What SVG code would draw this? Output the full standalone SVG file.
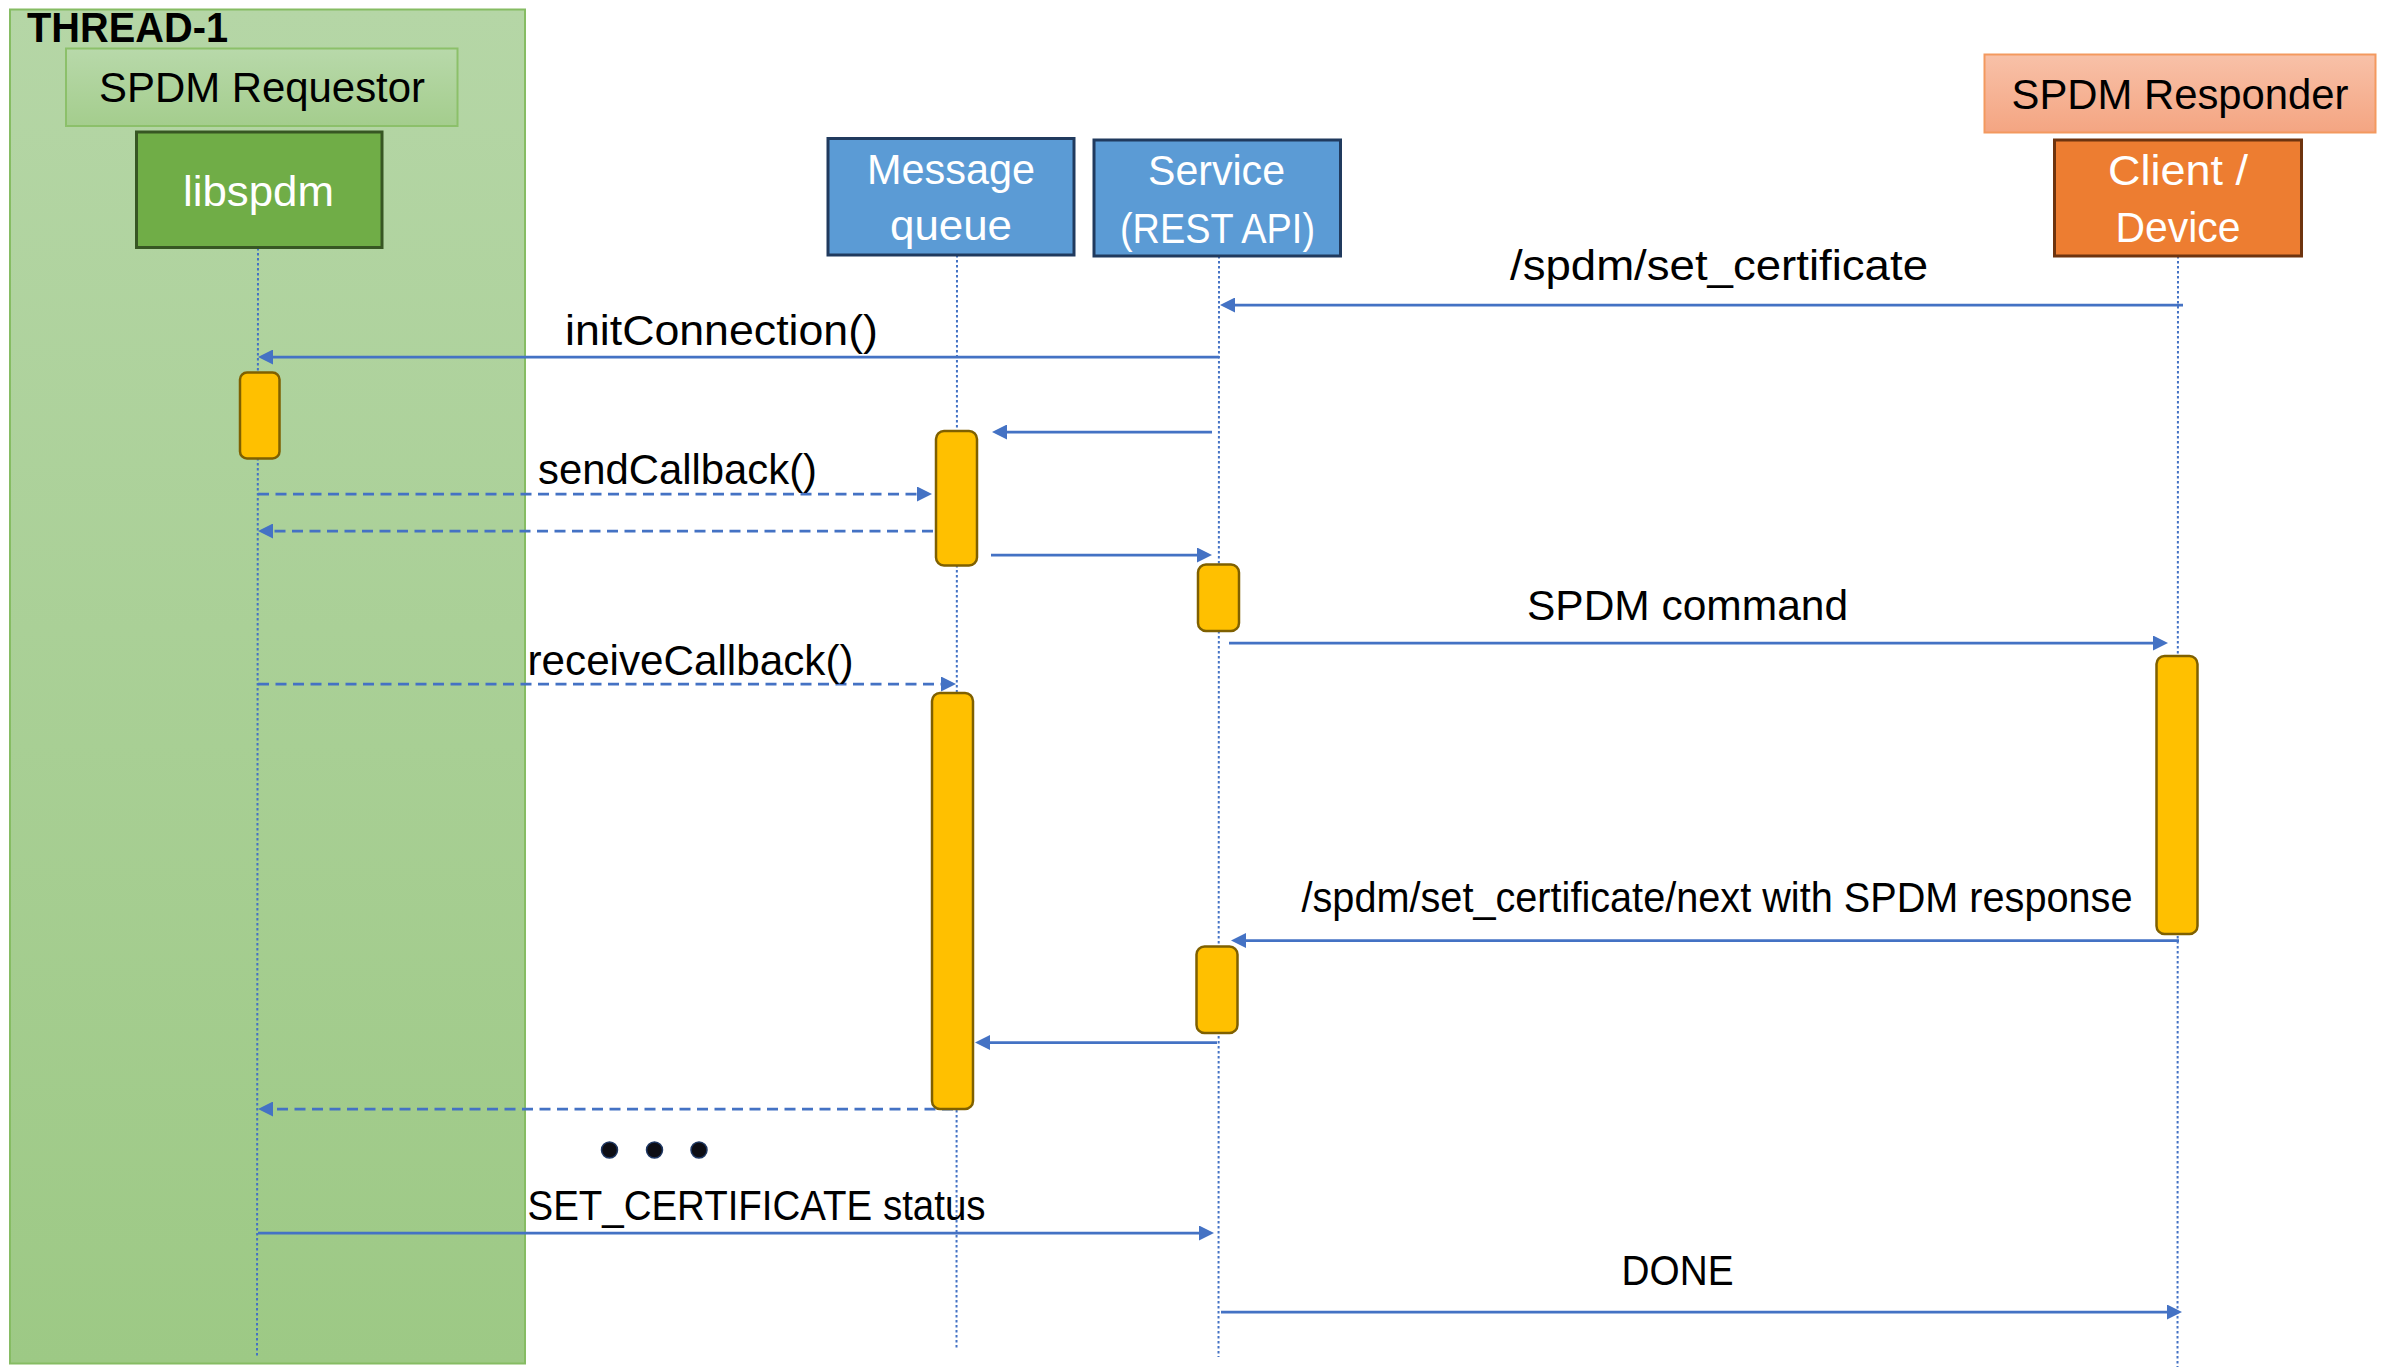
<svg xmlns="http://www.w3.org/2000/svg" width="2382" height="1368" viewBox="0 0 2382 1368">
<style>
text{font-family:"Liberation Sans",Arial,sans-serif;font-size:42px;fill:#000}
.w{fill:#fff}
.c{text-anchor:middle}
.life{stroke:#4472C4;stroke-width:2;stroke-dasharray:2.5 2.5;fill:none}
.msg{stroke:#4472C4;stroke-width:2.75;fill:none;marker-end:url(#ah)}
.dash{stroke-dasharray:11 6.5}
.act{fill:#FFC000;stroke:#7F6000;stroke-width:2.5}
</style>
<defs>
<linearGradient id="gThread" x1="0" y1="0" x2="0" y2="1"><stop offset="0" stop-color="#B5D6A6"/><stop offset="1" stop-color="#9DC985"/></linearGradient>
<linearGradient id="gReq" x1="0" y1="0" x2="0" y2="1"><stop offset="0" stop-color="#B8D9AA"/><stop offset="1" stop-color="#A4CD8D"/></linearGradient>
<linearGradient id="gResp" x1="0" y1="0" x2="0" y2="1"><stop offset="0" stop-color="#F8C1A8"/><stop offset="1" stop-color="#F4A582"/></linearGradient>
<marker id="ah" markerUnits="userSpaceOnUse" markerWidth="15" markerHeight="15" refX="1" refY="7.5" orient="auto" viewBox="0 0 15 15"><path d="M0,0 L15,7.5 L0,15 Z" fill="#4472C4"/></marker>
</defs>
<rect width="2382" height="1368" fill="#fff"/>
<g id="thread1">
<rect x="10" y="9.5" width="515" height="1354" fill="url(#gThread)" stroke="#86BC63" stroke-width="2"/>
<text x="27" y="42" font-weight="bold" font-size="40" textLength="201" lengthAdjust="spacingAndGlyphs">THREAD-1</text>
</g>
<g id="spdm-requestor">
<rect x="66" y="48.5" width="391.5" height="77.5" fill="url(#gReq)" stroke="#8CC06A" stroke-width="2"/>
<text class="c" x="262" y="102" textLength="326" lengthAdjust="spacingAndGlyphs">SPDM Requestor</text>
</g>
<g id="spdm-responder">
<rect x="1984.5" y="54.5" width="391" height="78" fill="url(#gResp)" stroke="#F3995F" stroke-width="2"/>
<text class="c" x="2180" y="109" textLength="337" lengthAdjust="spacingAndGlyphs">SPDM Responder</text>
</g>
<g id="lifelines">
<line class="life" x1="258" y1="248" x2="257" y2="1356"/>
<line class="life" x1="957" y1="255" x2="956.5" y2="1348"/>
<line class="life" x1="1219" y1="256" x2="1218.5" y2="1357"/>
<line class="life" x1="2178" y1="256" x2="2177.5" y2="1367"/>
</g>
<g id="libspdm">
<rect x="136.5" y="132" width="245.5" height="115.5" fill="#70AD47" stroke="#375623" stroke-width="3"/>
<text class="c w" x="258.5" y="206" font-size="44" textLength="151" lengthAdjust="spacingAndGlyphs">libspdm</text>
</g>
<g id="message-queue">
<rect x="828" y="138.5" width="246" height="116.5" fill="#5B9BD5" stroke="#203A5E" stroke-width="3"/>
<text class="c w" x="951" y="183.5" textLength="168" lengthAdjust="spacingAndGlyphs">Message</text>
<text class="c w" x="951" y="240" textLength="122" lengthAdjust="spacingAndGlyphs">queue</text>
</g>
<g id="service">
<rect x="1094" y="140" width="246.5" height="116" fill="#5B9BD5" stroke="#203A5E" stroke-width="3"/>
<text class="c w" x="1216.5" y="185" textLength="137" lengthAdjust="spacingAndGlyphs">Service</text>
<text class="c w" x="1217.5" y="243" textLength="195" lengthAdjust="spacingAndGlyphs">(REST API)</text>
</g>
<g id="client-device">
<rect x="2054.5" y="140" width="247" height="116" fill="#ED7D31" stroke="#6E340F" stroke-width="3"/>
<text class="c w" x="2178" y="185" textLength="140" lengthAdjust="spacingAndGlyphs">Client /</text>
<text class="c w" x="2178" y="242" textLength="125" lengthAdjust="spacingAndGlyphs">Device</text>
</g>
<g id="connectors">
<line class="msg" x1="2183" y1="305" x2="1234" y2="305"/>
<line class="msg" x1="1219" y1="357" x2="272" y2="357"/>
<line class="msg" x1="1212" y1="432" x2="1006" y2="432"/>
<line class="msg dash" x1="258" y1="494" x2="918" y2="494"/>
<line class="msg dash" x1="933" y1="531" x2="272" y2="531"/>
<line class="msg" x1="991" y1="555" x2="1198" y2="555"/>
<line class="msg" x1="1229" y1="643" x2="2154" y2="643"/>
<line class="msg dash" x1="258" y1="684" x2="942" y2="684"/>
<line class="msg" x1="2179" y1="940.5" x2="1245" y2="940.5"/>
<line class="msg" x1="1217" y1="1042.5" x2="989" y2="1042.5"/>
<line class="msg dash" x1="953" y1="1109" x2="272" y2="1109"/>
<line class="msg" x1="258" y1="1233" x2="1200" y2="1233"/>
<line class="msg" x1="1221" y1="1312" x2="2168" y2="1312"/>
</g>
<g id="activations">
<rect class="act" x="240" y="372.5" width="39.5" height="86" rx="7"/>
<rect class="act" x="936" y="431" width="41" height="134.5" rx="8"/>
<rect class="act" x="1198" y="564.5" width="41" height="66.5" rx="8"/>
<rect class="act" x="2156.5" y="656" width="41" height="278" rx="8"/>
<rect class="act" x="1196.5" y="946.5" width="41" height="86.5" rx="8"/>
<rect class="act" x="932" y="693" width="41" height="416" rx="8"/>
</g>
<g id="labels">
<text x="1510" y="280" textLength="418" lengthAdjust="spacingAndGlyphs">/spdm/set_certificate</text>
<text x="565" y="345" textLength="313" lengthAdjust="spacingAndGlyphs">initConnection()</text>
<text x="538" y="484" textLength="279" lengthAdjust="spacingAndGlyphs">sendCallback()</text>
<text x="1527" y="620" textLength="321" lengthAdjust="spacingAndGlyphs">SPDM command</text>
<text x="527.5" y="675" textLength="326" lengthAdjust="spacingAndGlyphs">receiveCallback()</text>
<text x="1301.5" y="912" textLength="831" lengthAdjust="spacingAndGlyphs">/spdm/set_certificate/next with SPDM response</text>
<text x="527.5" y="1220" textLength="458" lengthAdjust="spacingAndGlyphs">SET_CERTIFICATE status</text>
<text x="1621.5" y="1285" textLength="112" lengthAdjust="spacingAndGlyphs">DONE</text>
</g>
<g id="ellipsis" fill="#0D0D14" stroke="#1F3864" stroke-width="1.5">
<circle cx="609.5" cy="1150" r="8"/>
<circle cx="654.5" cy="1150" r="8"/>
<circle cx="699" cy="1150" r="8"/>
</g>
</svg>
